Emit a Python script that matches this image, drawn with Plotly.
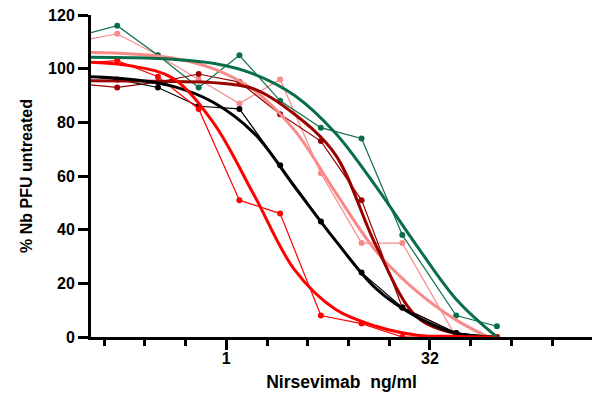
import plotly.graph_objects as go

# concentrations (ng/ml) of measured points
conc = [0.078125, 0.15625, 0.3125, 0.625, 1.25, 2.5, 5, 10, 20, 50, 100]

# measured % PFU values per series
green_pts   = [112, 116, 105, 93, 105, 88, 78, 74, 38, 8, 4]
pink_pts    = [110, 113, 105, 96, 87, 96, 61, 35, 35, 0, 0]
darkred_pts = [94.5, 93, 95, 98, 95, 83, 73, 51, 11, 1.5, 0]
red_pts     = [102, 103, 97, 85, 51, 46, 8, 5, 0, 0, 0]
black_pts   = [97.4, 96, 93, 86, 85, 64, 43, 24, 11, 1.5, 0]

# fitted curve values
fit_x = [0.1, 0.2, 0.4, 0.8, 1.6, 3.2, 6.4, 12.8, 25.6, 51.2, 100]
green_fit   = [104.3, 104.1, 103.5, 102, 98, 90, 76, 56, 34, 13.5, 0]
pink_fit    = [106, 105.5, 104, 100, 92, 77, 54, 32, 17, 6, -1.5]
darkred_fit = [95.5, 95.4, 95.2, 94.8, 92.5, 83, 68, 34, 7.5, 1, -1]
red_fit     = [102.4, 101, 96.5, 80, 53, 25, 10.3, 4, 0.7, 0.2, 0]
black_fit   = [97, 96, 93.5, 87.5, 76, 56, 36, 18, 7.5, 1.3, 0]

x_major = [1, 32]
x_major_text = ["1", "32"]
x_minor = [0.125, 0.25, 0.5, 2, 4, 8, 16, 64, 128, 256]
y_ticks = [0, 20, 40, 60, 80, 100, 120]

series = [
    ("pink", pink_pts, pink_fit, "#F88A8A"),
    ("darkred", darkred_pts, darkred_fit, "#990000"),
    ("black", black_pts, black_fit, "#000000"),
    ("red", red_pts, red_fit, "#FF0000"),
    ("green", green_pts, green_fit, "#0B6E4A"),
]

fig = go.Figure()
for name, pts, fit, col in series:
    fig.add_trace(go.Scatter(x=conc, y=pts, mode="lines+markers",
                             line=dict(color=col, width=1.2),
                             marker=dict(color=col, size=6),
                             showlegend=False, name=name))
for name, pts, fit, col in series:
    fig.add_trace(go.Scatter(x=fit_x, y=fit, mode="lines",
                             line=dict(color=col, width=3, shape="spline", smoothing=1.0),
                             showlegend=False, name=name + " fit"))

font_fam = "Liberation Sans, Arial, sans-serif"
# page body has an 8px default margin; figure sized to fit the 608x398 window
fig.update_layout(
    width=600, height=390,
    margin=dict(l=83, r=16, t=7, b=61),
    plot_bgcolor="white", paper_bgcolor="white",
    font=dict(family=font_fam, color="black"),
    xaxis=dict(type="log", range=[-1, 2.703], automargin=False,
               tickvals=x_major, ticktext=x_major_text,
               ticks="outside", ticklen=10, tickwidth=3, tickcolor="black",
               minor=dict(tickvals=x_minor, ticks="outside", ticklen=6, tickwidth=3, tickcolor="black"),
               showline=True, linewidth=3, linecolor="black",
               showgrid=False, zeroline=False, ticklabelstandoff=-5,
               ticklabeloverflow="allow",
               tickfont=dict(size=16, family=font_fam, weight="bold"),
               title=dict(text="<b>Nirsevimab  ng/ml</b>", font=dict(size=17.5), standoff=10)),
    yaxis=dict(range=[0, 120], tickvals=y_ticks, automargin=False,
               ticks="outside", ticklen=10, tickwidth=3, tickcolor="black",
               showline=True, linewidth=3, linecolor="black",
               showgrid=False, zeroline=False, ticklabeloverflow="allow",
               tickfont=dict(size=16, family=font_fam, weight="bold"),
               title=dict(text="<b>% Nb PFU untreated</b>", font=dict(size=16), standoff=12)),
)
fig.write_html("out.html")
